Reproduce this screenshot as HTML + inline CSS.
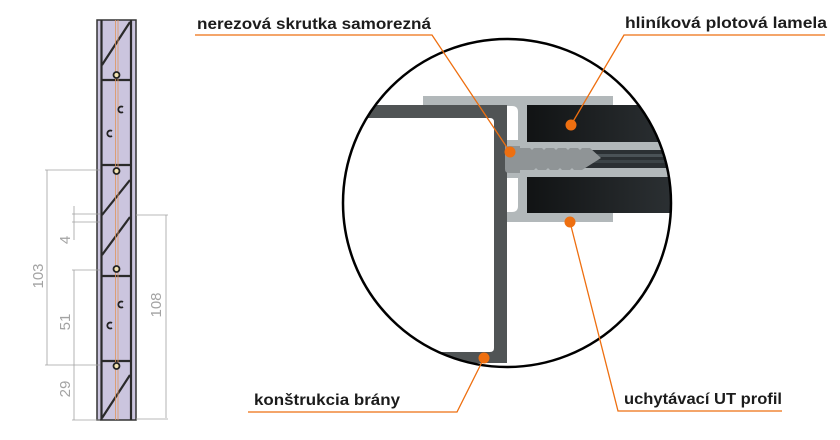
<!DOCTYPE html>
<html><head><meta charset="utf-8"><style>
html,body{margin:0;padding:0;background:#fff;}
svg{display:block;}
text{font-family:"Liberation Sans",sans-serif;}
</style></head><body>
<svg width="840" height="440" viewBox="0 0 840 440" xmlns="http://www.w3.org/2000/svg">
<defs>
<clipPath id="c"><circle cx="507" cy="203" r="164"/></clipPath>
<linearGradient id="lam" x1="0" x2="1" y1="0" y2="0">
<stop offset="0" stop-color="#111314"/><stop offset="1" stop-color="#2e3336"/></linearGradient>
</defs>
<rect x="97" y="20" width="39" height="400" fill="#cbc5de" stroke="#333" stroke-width="1.5"/>
<g stroke="#2a2a2a" stroke-width="2.2" fill="none">
<line x1="101.5" y1="20" x2="101.5" y2="420"/><line x1="131" y1="20" x2="131" y2="420"/>
<line x1="102" y1="80" x2="130" y2="80"/><line x1="102" y1="165" x2="130" y2="165"/>
<line x1="102" y1="276" x2="130" y2="276"/><line x1="102" y1="361" x2="130" y2="361"/>
<line x1="102" y1="65" x2="130" y2="22"/><line x1="102" y1="215" x2="130" y2="180"/>
<line x1="102" y1="255" x2="130" y2="217"/><line x1="102" y1="418" x2="130" y2="375"/>
</g>
<g stroke="#e0955a" stroke-width="0.8"><line x1="115.5" y1="20" x2="115.5" y2="420"/><line x1="118" y1="20" x2="118" y2="420"/></g>
<g fill="#f3e3b0" stroke="#222" stroke-width="1.8">
<circle cx="116.5" cy="75" r="3"/><circle cx="116.5" cy="171" r="3"/><circle cx="116.5" cy="269" r="3"/><circle cx="116.5" cy="366" r="3"/></g>
<g fill="none" stroke="#222" stroke-width="1.8">
<path d="M112 131a3 3 0 1 0 0 5"/><path d="M123 112a3 3 0 1 1 0-5"/>
<path d="M112 323a3 3 0 1 0 0 5"/><path d="M123 307a3 3 0 1 1 0-5"/></g>
<g stroke="#a0a0a0" stroke-width="0.8" fill="none">
<line x1="47" y1="170" x2="47" y2="365"/><line x1="45" y1="170" x2="100" y2="170"/><line x1="45" y1="365" x2="100" y2="365"/>
<line x1="74" y1="206" x2="74" y2="240"/><line x1="72" y1="214" x2="100" y2="214"/><line x1="72" y1="222" x2="100" y2="222"/>
<line x1="74" y1="270" x2="74" y2="420"/><line x1="72" y1="270" x2="100" y2="270"/><line x1="72" y1="420" x2="100" y2="420"/>
<line x1="166" y1="215" x2="166" y2="418"/><line x1="136" y1="215" x2="168" y2="215"/><line x1="136" y1="419" x2="168" y2="419"/>
</g>
<g fill="#a3a3a3" font-size="15">
<text transform="translate(43,276) rotate(-90)" text-anchor="middle">103</text>
<text transform="translate(70,240) rotate(-90)" text-anchor="middle">4</text>
<text transform="translate(70,322) rotate(-90)" text-anchor="middle">51</text>
<text transform="translate(70,389) rotate(-90)" text-anchor="middle">29</text>
<text transform="translate(161,305) rotate(-90)" text-anchor="middle">108</text>
</g>
<g clip-path="url(#c)">
<rect x="527" y="105" width="160" height="37" fill="url(#lam)"/>
<rect x="527" y="177" width="160" height="36" fill="url(#lam)"/>
<rect x="560" y="150" width="127" height="18" fill="#2b3033"/>
<rect x="585" y="154" width="102" height="3" fill="#4a5256"/><rect x="585" y="160" width="102" height="3" fill="#3c4447"/>
<path d="M340 105H507V363H340V352H490Q494 352 494 348V122Q494 118 490 118H340Z" fill="#505455"/>
<path d="M423 96H613V105H527V142H687V150H527V168H687V177H527V213H613V222H507V105H423Z" fill="#b2b8ba"/>
<path d="M507 106H512Q518 106 518 112V140H507Z" fill="#fff"/>
<path d="M507 178H518V206Q518 212 512 212H507Z" fill="#fff"/>
<path d="M505 146H520V148H530l2 2 2-2h8l2 2 2-2h8l2 2 2-2h8l2 2 2-2h8l2 2 2-2h8L601 158 582 170h-8l-2-2-2 2h-8l-2-2-2 2h-8l-2-2-2 2h-8l-2-2-2 2H520V173H509Q505 173 505 169Z" fill="#8f9496"/>
</g>
<circle cx="507" cy="203" r="164" fill="none" stroke="#000" stroke-width="2.5"/>
<g stroke="#ee6f10" stroke-width="1.3" fill="none">
<polyline points="195,35 432,35 510,152"/>
<polyline points="825,35 624,35 571,125"/>
<polyline points="248,412 457,412 484,358"/>
<polyline points="782,411 618,411 570,222"/>
</g>
<g fill="#ee6f10"><circle cx="510" cy="152" r="5.5"/><circle cx="571" cy="125" r="5.5"/><circle cx="570" cy="222" r="5.5"/><circle cx="484" cy="358" r="5.5"/></g>
<g fill="#1c1c1c" font-size="16" font-weight="bold">
<text x="197" y="29" textLength="234" lengthAdjust="spacingAndGlyphs">nerezová skrutka samorezná</text>
<text x="625" y="28" textLength="202" lengthAdjust="spacingAndGlyphs">hliníková plotová lamela</text>
<text x="254" y="405" textLength="146" lengthAdjust="spacingAndGlyphs">konštrukcia brány</text>
<text x="624" y="404" textLength="158" lengthAdjust="spacingAndGlyphs">uchytávací UT profil</text>
</g>
</svg>
</body></html>
